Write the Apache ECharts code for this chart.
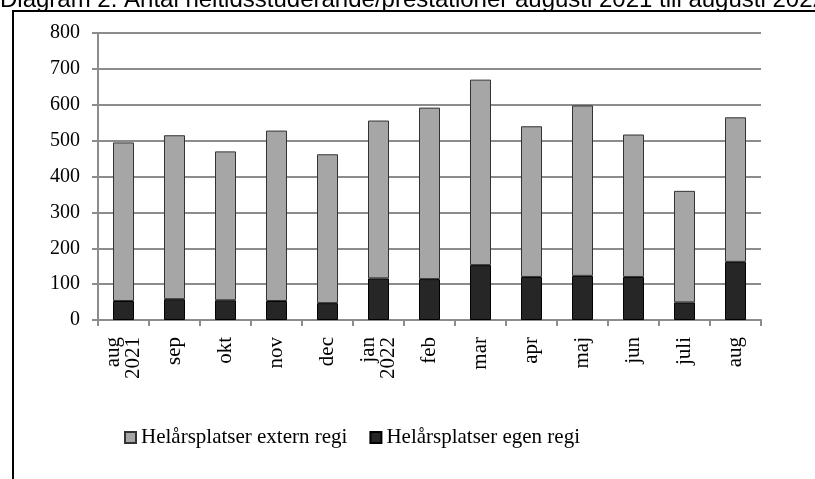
<!DOCTYPE html>
<html>
<head>
<meta charset="utf-8">
<script src="https://cdn.jsdelivr.net/npm/echarts@6/dist/echarts.min.js"></script>
<style>html,body{margin:0;padding:0;background:#fff;}#c{width:815px;height:479px;}</style>
</head>
<body>
<div id="c"></div>
<script>
var categories = ['aug\n2021','sep','okt','nov','dec','jan\n2022','feb','mar','apr','maj','jun','juli','aug'];
var egenRegi = [53,58,55,53,47,116,114,153,120,123,120,49,162];
var externRegi = [442,457,415,475,415,440,478,517,420,475,397,311,403];
var yTicks = {min:0, max:800, interval:100};
var titleText = 'Diagram 2. Antal heltidsstuderande/prestationer augusti 2021 till augusti 2022';
var nameExtern = 'Helårsplatser extern regi';
var nameEgen = 'Helårsplatser egen regi';

var chart = echarts.init(document.getElementById('c'), null, {renderer:'canvas'});
var serif = '"Liberation Serif","Times New Roman",serif';
chart.setOption({
  animation:false,
  backgroundColor:'#fff',
  graphic:[
    {type:'text', x:0, y:12, style:{text:titleText, font:'24px "Liberation Sans", Arial, sans-serif', fill:'#000', verticalAlign:'bottom', align:'left'}},
    {type:'rect', shape:{x:13, y:11, width:900, height:600}, style:{fill:'none', stroke:'#000', lineWidth:2}}
  ],
  grid:{left:98, right:54, top:33, bottom:159},
  legend:{
    data:[nameExtern, nameEgen],
    left:124, top:427, padding:0, icon:'rect', itemWidth:11, itemHeight:11, itemGap:22,
    textStyle:{fontFamily:serif, fontSize:21, color:'#000'}
  },
  xAxis:{
    type:'category', data:categories, boundaryGap:true,
    axisLine:{lineStyle:{color:'#8c8c8c', width:2}},
    axisTick:{show:true, alignWithLabel:false, length:6, lineStyle:{color:'#8c8c8c', width:2}},
    axisLabel:{rotate:90, margin:17, fontFamily:serif, fontSize:21, color:'#000', lineHeight:20, interval:0}
  },
  yAxis:{
    type:'value', min:yTicks.min, max:yTicks.max, interval:yTicks.interval,
    axisLine:{show:true, lineStyle:{color:'#8c8c8c', width:2}},
    axisTick:{show:true, length:6, lineStyle:{color:'#8c8c8c', width:2}},
    splitLine:{lineStyle:{color:'#8c8c8c', width:2}},
    axisLabel:{margin:18, fontFamily:serif, fontSize:20, color:'#000'}
  },
  series:[
    {name:nameEgen, type:'bar', stack:'t', data:egenRegi, barWidth:21,
     itemStyle:{color:'#262626', borderColor:'#000', borderWidth:1}},
    {name:nameExtern, type:'bar', stack:'t', data:externRegi, barWidth:21,
     itemStyle:{color:'#a6a6a6', borderColor:'#333', borderWidth:1}}
  ]
});
</script>
</body>
</html>
